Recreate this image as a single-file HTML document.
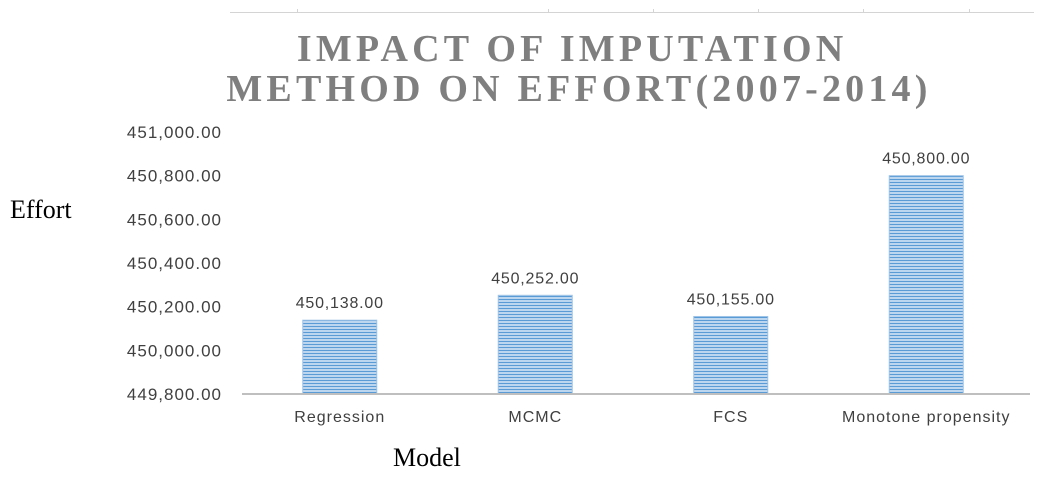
<!DOCTYPE html>
<html><head><meta charset="utf-8"><style>
body{margin:0;background:#fff;}
svg{display:block;}
</style></head><body>
<svg width="1049" height="481" viewBox="0 0 1049 481">
<defs>
<pattern id="stripes" width="4" height="3" patternUnits="userSpaceOnUse">
<rect width="4" height="3" fill="#bcd6f0"/>
<rect y="2" width="4" height="1" fill="#5b9bd5"/>
</pattern>
</defs>
<g>
<line x1="230" y1="12.5" x2="1034" y2="12.5" stroke="#d4d4d4" stroke-width="1"/>
<g id="topticks" stroke="#d4d4d4"></g>
</g>
<text text-anchor="middle" font-family="Liberation Serif, serif" font-weight="bold" font-size="38" fill="#7f7f7f" letter-spacing="4.2">
<tspan x="579" y="61">IMPACT OF IMPUTATION</tspan>
<tspan x="579" y="101">METHOD ON EFFORT(2007-2014)</tspan>
</text>
<text x="10" y="218" font-family="Liberation Serif, serif" font-size="26" fill="#000">Effort</text>
<text x="393" y="466" font-family="Liberation Serif, serif" font-size="26" fill="#000">Model</text>
<g id="yticks"></g>
<g id="bars"></g>
<line x1="242" y1="394" x2="1030" y2="394" stroke="#bfbfbf" stroke-width="2"/>
<g id="xlabels"></g>
</svg>
<script>
const categories = ["Regression","MCMC","FCS","Monotone propensity"];
const values = [450138, 450252, 450155, 450800];
const valueLabels = ["450,138.00","450,252.00","450,155.00","450,800.00"];
const yTicks = [449800, 450000, 450200, 450400, 450600, 450800, 451000];
const yTickLabels = ["449,800.00","450,000.00","450,200.00","450,400.00","450,600.00","450,800.00","451,000.00"];
const NS = "http://www.w3.org/2000/svg";
const yMin = 449800, yMax = 451000, yBottom = 394, yTop = 132;
const xLeft = 242, catW = 195.5, barW = 74;
function y(v){ return yBottom - (v - yMin) / (yMax - yMin) * (yBottom - yTop); }
function xc(i){ return xLeft + catW * (i + 0.5); }
function mk(tag, attrs, parent){ const e = document.createElementNS(NS, tag); for (const k in attrs) e.setAttribute(k, attrs[k]); parent.appendChild(e); return e; }
const tt = document.getElementById("topticks");
[297,548,653,758,863,969].forEach(x => { mk("line", {x1:x+0.5, y1:9, x2:x+0.5, y2:13}, tt); });
const yg = document.getElementById("yticks");
yTicks.forEach((t, i) => {
  const e = mk("text", {x:222, y:y(t)+6, "text-anchor":"end", "font-family":"Liberation Sans, sans-serif", "font-size":"17", "letter-spacing":"1", fill:"#404040"}, yg);
  
  
  e.textContent = yTickLabels[i];
});
const bg = document.getElementById("bars");
const xg = document.getElementById("xlabels");
values.forEach((v, i) => {
  const r = mk("rect", {x:xc(i)-barW/2, y:y(v), width:barW, height:yBottom-y(v), fill:"url(#stripes)", stroke:"#9dc3e6", "stroke-width":"1"}, bg);
  
  
  const l = mk("text", {x:xc(i), y:y(v)-12, "text-anchor":"middle", "font-family":"Liberation Sans, sans-serif", "font-size":"16", "letter-spacing":"0.8", fill:"#404040"}, bg);
  
  
  l.textContent = valueLabels[i];
  const c = mk("text", {x:xc(i), y:422, "text-anchor":"middle", "font-family":"Liberation Sans, sans-serif", "font-size":"16", "letter-spacing":"1", fill:"#404040"}, xg);
  
  
  c.textContent = categories[i];
});
</script>
</body></html>
